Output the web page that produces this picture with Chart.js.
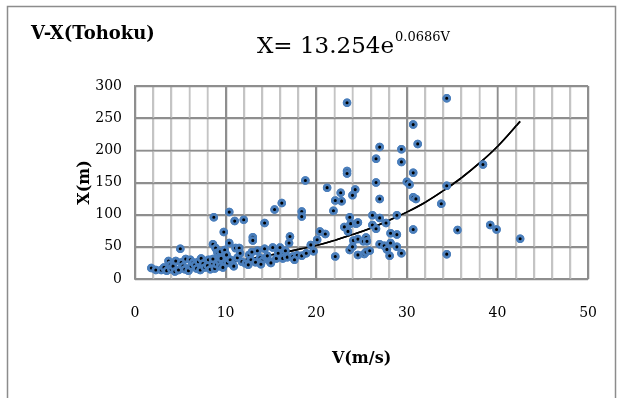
<!DOCTYPE html>
<html>
<head>
<meta charset="utf-8">
<script src="https://cdn.jsdelivr.net/npm/chart.js@4/dist/chart.umd.min.js"></script>
</head>
<body style="margin:0">
<canvas id="c" width="623" height="398"></canvas>
<script>
// ---- data ----
const speedV = [
 1.8,2.3,2.9,3.2,3.5,3.7,3.9,4.0,4.2,4.4,4.5,4.8,5.0,5.1,5.3,5.5,5.6,5.9,6.1,6.2,6.4,6.6,6.8,7.0,7.2,7.3,7.5,7.7,8.0,8.1,8.3,8.6,8.6,8.7,8.8,8.9,9.0,9.1,9.3,9.4,9.4,9.5,9.7,9.8,9.9,
 10.1,10.4,10.4,10.2,10.5,10.8,11.0,11.1,11.5,11.3,11.8,12.0,12.2,12.6,12.8,13.0,13.0,13.3,13.5,13.8,14.0,14.3,14.3,14.6,14.9,15.2,15.4,15.6,16.0,16.2,16.3,16.6,16.8,17.0,17.1,17.4,17.9,18.4,18.4,18.4,18.8,18.9,19.4,19.7,10.9,12.5,13.9,15.0,11.6,12.9,15.8,17.6,
 20.1,20.4,21.0,21.2,21.9,22.1,22.1,22.7,22.8,23.1,23.4,23.4,23.4,23.5,23.7,23.7,23.8,24.0,24.0,24.1,24.3,24.4,24.6,24.6,24.6,25.2,25.3,25.5,25.5,25.6,25.9,26.2,26.2,26.6,26.6,26.6,27.0,27.0,27.0,27.0,27.5,27.7,27.8,28.1,28.2,28.2,28.9,28.9,28.9,29.4,29.4,29.4,
 30.0,30.3,30.7,31.2,30.7,34.4,38.4,34.4,30.7,31.0,33.8,30.7,35.6,39.2,39.9,42.5,34.4
];
const distX = [
 17,14,14,18,13,28,22,15,20,11.5,28,14,47,25.5,20,15,31,13,30,20,25.5,22,16.5,27,14,32,24,18,21,30,15,54,31,96,16.5,48,23,41,27,20,42.5,32,18,73,45,
 37.5,104,56,25,30,22,90,48,48,33,27,92,24,37.5,30,65,60,26,44,33,28,87,47,36,27,49,108,32,49,118,32,44,34,56,66,35,37,105,97,36,153,40,53,43,20,22,23,25,40,42,40,30,
 61,74,70,142,106,122,35,134,121,81,274,168,164,74,96,45,86,130,50,60,139,86,88,62,37.5,58.5,39,64.6,42,58.5,44,99,84,187,150,78,205,124.5,95,54,51.6,87,46,36,71,56,99,69,50,201.6,182,40,
 151,147,240,210,165,281,178,145,127,124.5,117,77,76,84,77,62.5,38.6
];
// trend curve points read along the drawn trendline
const trendV = [2,4,6,8,10,12,14,16,18,20,22,24,26,28,30,32,34,36,38,40,42.5];
const trendX = [15,17,20,23,26,30,35,40,46,52,60,69,79,91,104,119,137,157,180,206,245];
const xTicks = [0,10,20,30,40,50];
const yTicks = [0,50,100,150,200,250,300];
const chartTitle = "V-X(Tohoku)";
const eqMain = "X= 13.254e";
const eqExp = "0.0686V";
const xTitle = "V(m/s)";
const yTitle = "X(m)";

const SERIF = "'DejaVu Serif', 'Liberation Serif', serif";
const MAJOR = '#8e8e8e', MINOR = '#c4c4c4';

function pix(scale, v, a0, a1) {
  let p = scale.getPixelForValue(v);
  if (!isFinite(p)) p = a0 + (v - scale.min) / (scale.max - scale.min) * (a1 - a0);
  return p;
}

const deco = {
  id:'deco',
  afterDraw(chart){
    const ctx = chart.ctx, a = chart.chartArea;
    const x = chart.scales.x, y = chart.scales.y;
    ctx.save();
    // grid through the chart's scales
    ctx.setLineDash([]);
    ctx.lineWidth = 1.5;
    for (let v = 0; v <= 50; v += 2) {
      const px = Math.round(pix(x, v, a.left, a.right)) + 0.5;
      ctx.strokeStyle = (v % 10 === 0) ? MAJOR : MINOR;
      ctx.beginPath(); ctx.moveTo(px, a.top); ctx.lineTo(px, a.bottom); ctx.stroke();
    }
    ctx.strokeStyle = MAJOR;
    yTicks.forEach(v => {
      const py = Math.round(pix(y, v, a.bottom, a.top)) + 0.5;
      ctx.beginPath(); ctx.moveTo(a.left, py); ctx.lineTo(a.right, py); ctx.stroke();
    });
    ctx.restore();
    // library elements drawn again over the grid
    const trendMeta = chart.getDatasetMeta(1);
    if (trendMeta && trendMeta.dataset) { ctx.save(); trendMeta.dataset.draw(ctx, a); ctx.restore(); }
    const ptMeta = chart.getDatasetMeta(0);
    ptMeta.data.forEach(el => { ctx.save(); el.draw(ctx, a); ctx.restore(); });
    // frame and texts
    ctx.save();
    ctx.strokeStyle='#8c8c8c';
    ctx.lineWidth=1.5;
    ctx.strokeRect(7.5,6.5,608,400);
    ctx.fillStyle='#000';
    ctx.textBaseline='alphabetic';
    ctx.textAlign='left';
    ctx.font = "bold 18px " + SERIF;
    ctx.fillText(chartTitle, 31, 39);
    ctx.font = "23px " + SERIF;
    ctx.fillText(eqMain, 257, 53);
    const w = ctx.measureText(eqMain).width;
    ctx.font = "13px " + SERIF;
    ctx.fillText(eqExp, 257 + w + 1, 41);
    ctx.restore();
  }
};

new Chart(document.getElementById('c'), {
  type:'scatter',
  data:{datasets:[
    {data:speedV.map((v,i)=>({x:v,y:distX[i]})), pointRadius:2.9, pointBorderWidth:2.7, pointBackgroundColor:'#000', pointBorderColor:'#4a7ebb', showLine:false, order:2},
    {data:trendV.map((v,i)=>({x:v,y:trendX[i]})), showLine:true, pointRadius:0, borderColor:'#000', borderWidth:1.6, tension:0.4, fill:false, order:1}
  ]},
  options:{
    responsive:false, animation:false,
    layout:{padding:{left:0,right:34,top:86,bottom:0}},
    plugins:{legend:{display:false}, tooltip:{enabled:false}},
    scales:{
      x:{type:'linear', min:0, max:50,
        afterFit(s){ s.height = 119; },
        ticks:{stepSize:2, autoSkip:false, maxRotation:0, padding:26, color:'#000', font:{family:SERIF, size:14},
          callback:(v)=> xTicks.includes(v) ? String(v) : ''},
        grid:{display:true, drawOnChartArea:true, drawTicks:false, lineWidth:1.5,
          color:(c)=> (c.tick && Math.round(c.tick.value)%10===0) ? MAJOR : MINOR},
        border:{color:MAJOR, width:1.5},
        title:{display:true, text:xTitle, color:'#000', font:{family:SERIF, size:16, weight:'bold'}, padding:{top:0,bottom:30}}
      },
      y:{type:'linear', min:0, max:300,
        afterFit(s){ s.width = 135; },
        ticks:{stepSize:50, padding:13, color:'#000', font:{family:SERIF, size:14},
          callback:(v)=> yTicks.includes(v) ? String(v) : ''},
        grid:{display:true, drawOnChartArea:true, drawTicks:false, lineWidth:1.5, color:MAJOR},
        border:{color:MAJOR, width:1.5},
        title:{display:true, text:yTitle, color:'#000', font:{family:SERIF, size:16, weight:'bold'}, padding:{top:75,bottom:0}}
      }
    }
  },
  plugins:[deco]
});
</script>
</body>
</html>
